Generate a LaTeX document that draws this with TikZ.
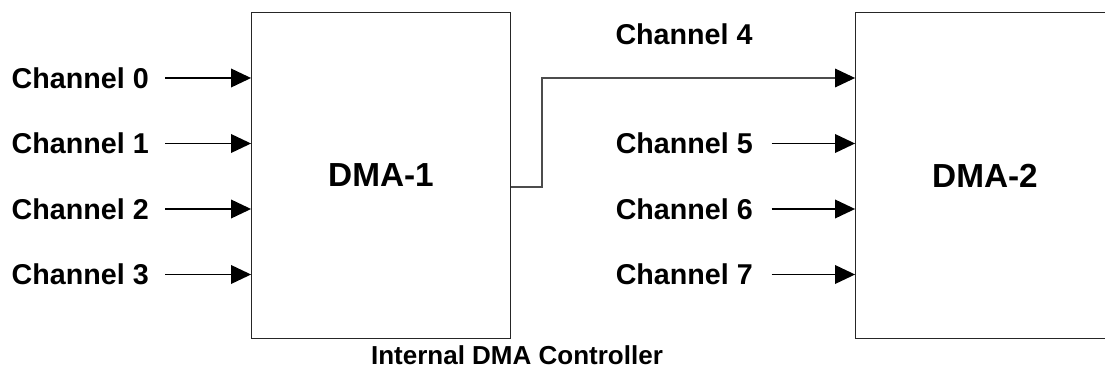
\documentclass[tikz,border=0pt]{standalone}
\usepackage{fontspec}
\setmainfont{Liberation Sans}
\usetikzlibrary{arrows.meta}
\usetikzlibrary{positioning}

\tikzset{
  unit box/.style={draw=black!85,line width=0.9pt,minimum width=194pt,minimum height=245pt,
    inner sep=0pt,font=\fontsize{25}{30}\selectfont\bfseries},
  chan/.style={inner sep=0pt,font=\fontsize{21.5}{26}\selectfont\bfseries},
  feed/.style={-{Triangle[length=15pt,width=14pt,black]},line width=1pt}
}

\begin{document}
\begin{tikzpicture}[line cap=butt,line join=miter,x=0.75pt,y=-0.75pt]
\useasboundingbox (0,0) rectangle (1105,370);
\clip (0,0) rectangle (1105,370);
% the two controllers
\node[unit box] (dma1) at (381,175.5) {DMA-1};
\node[unit box] (dma2) at (985,175.5) {DMA-2};
% channels into DMA-1
\foreach \i/\y in {0/78,1/143.5,2/209,3/274.5}{
  \node[chan,anchor=east] (ch\i) at (149,\y) {Channel \i};
  \draw[feed] ([xshift=12pt]ch\i.east) -- (ch\i.east -| dma1.west);
}
% channels into DMA-2
\foreach \i/\y in {5/143.5,6/209,7/274.5}{
  \node[chan,anchor=east] (ch\i) at (753,\y) {Channel \i};
  \draw[feed] ([xshift=14pt]ch\i.east) -- (ch\i.east -| dma2.west);
}
% cascade line
\node[chan] (ch4) at (684,34.5) {Channel 4};
\coordinate (bend) at (542,78);
\draw[feed,line width=0.8pt,draw=black!70] (dma1.east |- 0,187) -| (bend) -- (bend -| dma2.west);
\node[chan,font=\fontsize{19.5}{24}\selectfont\bfseries] (caption) at (517,355) {Internal DMA Controller};
\end{tikzpicture}
\end{document}
